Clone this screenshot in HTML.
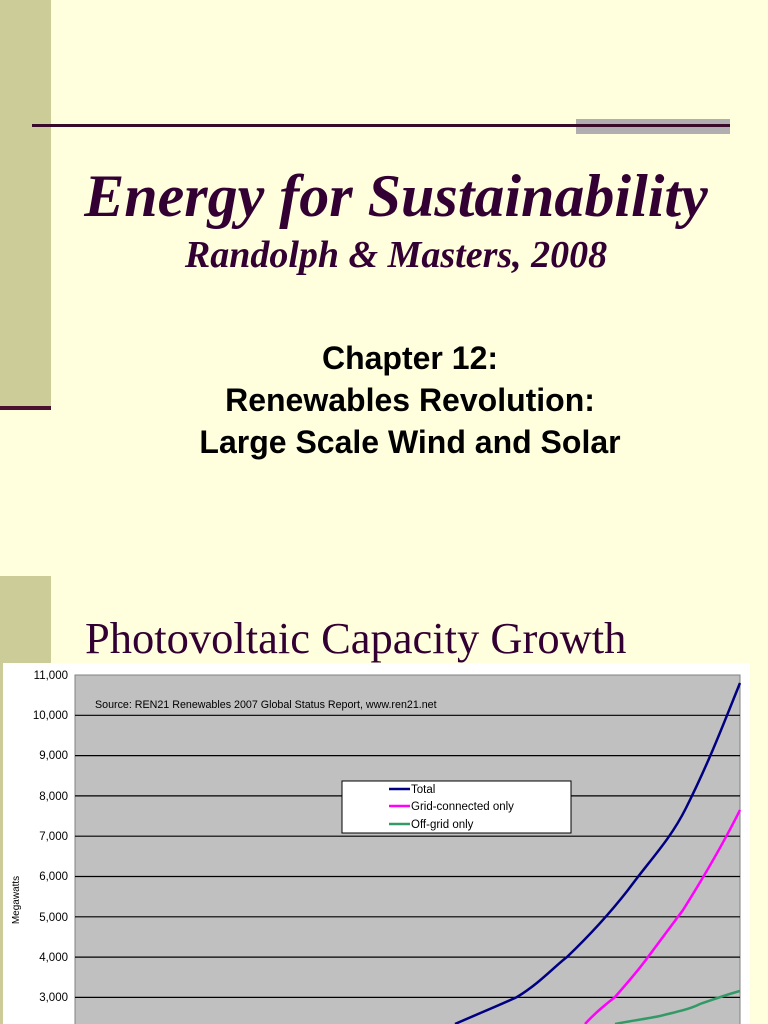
<!DOCTYPE html>
<html><head><style>
body{margin:0;width:768px;height:1024px;background:#FFFFDD;position:relative;overflow:hidden;font-family:"Liberation Sans",sans-serif;}
.a{position:absolute}
</style></head><body>
<div class="a" style="left:0;top:0;width:51px;height:408px;background:#CCCC99"></div>
<div class="a" style="left:0;top:406px;width:51px;height:4px;background:#4a1030"></div>
<div class="a" style="left:0;top:576px;width:51px;height:448px;background:#CCCC99"></div>
<div class="a" style="left:576px;top:119px;width:154px;height:15px;background:#B0AEB0"></div>
<div class="a" style="left:32px;top:124px;width:698px;height:3px;background:#3a0a2a"></div>
<div class="a" style="left:0;top:162px;width:792px;text-align:center;font-family:'Liberation Serif',serif;font-weight:bold;font-style:italic;font-size:60px;color:#330033">Energy for Sustainability</div>
<div class="a" style="left:0;top:233px;width:792px;text-align:center;font-family:'Liberation Serif',serif;font-weight:bold;font-style:italic;font-size:38px;color:#330033">Randolph &amp; Masters, 2008</div>
<div class="a" style="left:0;top:337px;width:820px;text-align:center;font-weight:bold;font-size:32px;line-height:42px;color:#000">Chapter 12:<br>Renewables Revolution:<br>Large Scale Wind and Solar</div>
<div class="a" style="left:85px;top:612px;font-family:'Liberation Serif',serif;font-size:44.5px;color:#330033">Photovoltaic Capacity Growth</div>
<svg class="a" style="left:0;top:0" width="768" height="1024">
<rect x="3" y="663" width="747" height="361" fill="#fff"/>
<rect x="75" y="675" width="665" height="360" fill="#C0C0C0" stroke="#808080"/>
<g stroke="#000" stroke-width="1.2">
<line x1="75" x2="740" y1="715.3" y2="715.3"/><line x1="75" x2="740" y1="755.6" y2="755.6"/>
<line x1="75" x2="740" y1="795.9" y2="795.9"/><line x1="75" x2="740" y1="836.2" y2="836.2"/>
<line x1="75" x2="740" y1="876.5" y2="876.5"/><line x1="75" x2="740" y1="916.8" y2="916.8"/>
<line x1="75" x2="740" y1="957.1" y2="957.1"/><line x1="75" x2="740" y1="997.4" y2="997.4"/>
</g>
<g font-size="11.5" text-anchor="end" fill="#000">
<text x="68" y="679">11,000</text><text x="68" y="719">10,000</text><text x="68" y="759">9,000</text>
<text x="68" y="800">8,000</text><text x="68" y="840">7,000</text><text x="68" y="880">6,000</text>
<text x="68" y="921">5,000</text><text x="68" y="961">4,000</text><text x="68" y="1001">3,000</text>
</g>
<text transform="translate(19,900) rotate(-90)" font-size="10" text-anchor="middle">Megawatts</text>
<text x="95" y="708" font-size="10.7">Source: REN21 Renewables 2007 Global Status Report, www.ren21.net</text>
<path d="M455,1024 C480,1013 500,1005 517,997 C540,983 555,966 567,957 C590,935 610,913 628,890 C650,860 670,840 686,808 C710,760 725,720 740,683" fill="none" stroke="#000080" stroke-width="2.5"/>
<path d="M585,1024 C595,1013 605,1005 615,997 C630,980 640,968 648,957 C662,938 672,925 683,910 C705,875 725,840 740,810" fill="none" stroke="#FF00FF" stroke-width="2.5"/>
<path d="M615,1024 C630,1021 645,1019 660,1016 C680,1011 690,1009 700,1004 C715,999 728,994 740,991" fill="none" stroke="#339966" stroke-width="2.5"/>
<rect x="342" y="781" width="229" height="52" fill="#fff" stroke="#000"/>
<g stroke-width="2.5"><line x1="389" x2="410" y1="789" y2="789" stroke="#000080"/><line x1="389" x2="410" y1="806" y2="806" stroke="#FF00FF"/><line x1="389" x2="410" y1="824" y2="824" stroke="#339966"/></g>
<g font-size="11.5"><text x="411" y="793">Total</text><text x="411" y="810">Grid-connected only</text><text x="411" y="828">Off-grid only</text></g>
</svg>
</body></html>
